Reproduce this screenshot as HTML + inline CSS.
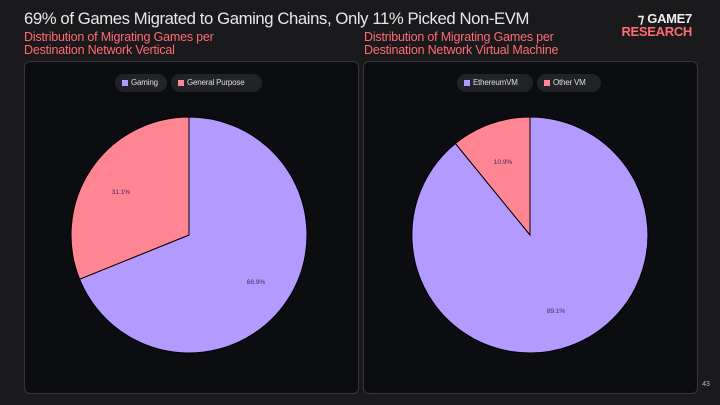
<!DOCTYPE html>
<html><head><style>
body{margin:0;width:720px;height:405px;background:#1a1a1c;font-family:"Liberation Sans",sans-serif;overflow:hidden;position:relative}
.t{position:absolute;left:24px;top:9px;color:#e8e8ea;font-size:16.7px;letter-spacing:-0.4px;white-space:nowrap}
.s{position:absolute;color:#ff6b72;font-size:12.5px;line-height:13px;top:31px;letter-spacing:-0.2px;white-space:nowrap}
.p{position:absolute;top:61px;width:333px;height:331px;background:#0c0d10;border:1px solid #35363a;border-radius:6px}
.pill{position:absolute;top:74px;height:18px;background:#222328;border-radius:9px;color:#ddd;font-size:8px;line-height:18px;padding:0 0 0 16px;box-sizing:border-box;white-space:nowrap;letter-spacing:-0.2px}
.pill i{position:absolute;left:7px;top:6px;width:6px;height:6px}
.logo{position:absolute;right:28px;top:12px;font-weight:bold;font-size:13px;line-height:13px;text-align:right;letter-spacing:-0.3px}
</style></head><body>
<div class="t">69% of Games Migrated to Gaming Chains, Only 11% Picked Non-EVM</div>
<div class="s" style="left:24px">Distribution of Migrating Games per<br>Destination Network Vertical</div>
<div class="s" style="left:364px">Distribution of Migrating Games per<br>Destination Network Virtual Machine</div>
<div class="logo"><span style="color:#eee">⁊ GAME7</span><br><span style="color:#ff6b72">RESEARCH</span></div>
<div class="p" style="left:24px"></div>
<div class="p" style="left:363px"></div>
<div class="pill" style="left:115px;width:52px"><i style="background:#b39aff"></i>Gaming</div>
<div class="pill" style="left:171px;width:91px"><i style="background:#ff8593"></i>General Purpose</div>
<div class="pill" style="left:457px;width:76px"><i style="background:#b39aff"></i>EthereumVM</div>
<div class="pill" style="left:537px;width:64px"><i style="background:#ff8593"></i>Other VM</div>
<svg width="720" height="405" style="position:absolute;left:0;top:0">
<path d="M189,235 L189,117 A118,118 0 1,1 79.6,279.2 Z" fill="#b39aff" stroke="#000" stroke-width="1"/>
<path d="M189,235 L79.6,279.2 A118,118 0 0,1 189,117 Z" fill="#ff8593" stroke="#000" stroke-width="1"/>
<path d="M530,235 L530,117 A118,118 0 1,1 455.4,143.5 Z" fill="#b39aff" stroke="#000" stroke-width="1"/>
<path d="M530,235 L455.4,143.5 A118,118 0 0,1 530,117 Z" fill="#ff8593" stroke="#000" stroke-width="1"/>
<g font-family="Liberation Sans" font-size="6.5" fill="#3a2f55" text-anchor="middle">
<text x="121" y="194">31.1%</text><text x="256" y="284">68.9%</text>
<text x="503" y="164">10.9%</text><text x="556" y="313">89.1%</text>
</g>
<text x="706" y="386" font-family="Liberation Sans" font-size="7" fill="#bbb" text-anchor="middle">43</text>
</svg>
</body></html>
